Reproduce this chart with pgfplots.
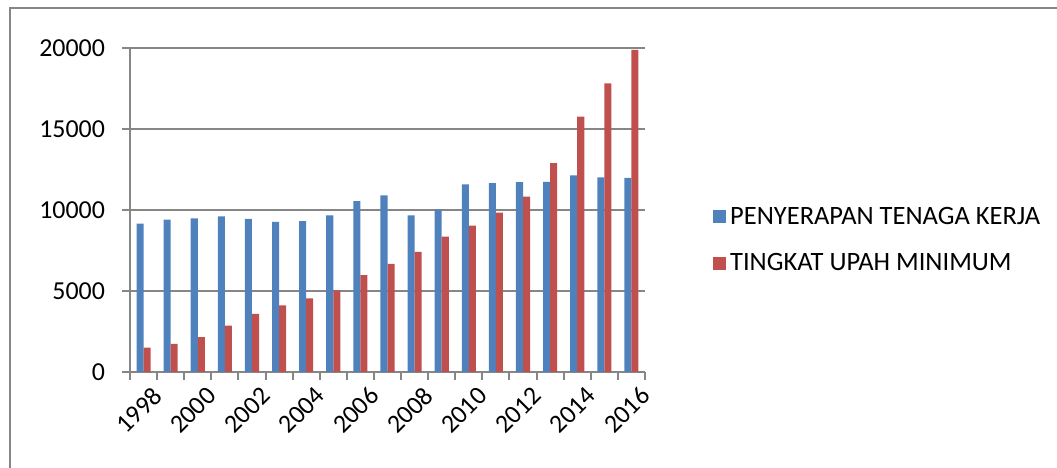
\documentclass[border=0pt]{standalone}
\usepackage{fontspec}
\setmainfont{Carlito}
\usepackage{pgfplots}
\pgfplotsset{compat=1.18}
\definecolor{serblue}{HTML}{4F81BD}
\definecolor{serred}{HTML}{C0504D}
\definecolor{axgray}{HTML}{868686}

\begin{document}
\begin{tikzpicture}
\useasboundingbox (0,0) rectangle (528.5bp,234bp);
% chart area frame (only top and left edges are visible)
\draw[axgray, line width=1bp] (5bp,0) -- (5bp,230bp) -- (528.5bp,230bp);
\begin{axis}[
  at={(65bp,48bp)}, anchor=south west,
  scale only axis, width=257.5bp, height=162bp,
  ybar=0pt, bar width=0.26,
  xmin=-0.5, xmax=18.5, ymin=0, ymax=20000,
  axis x line*=bottom, axis y line*=left,
  axis line style={axgray, line width=1bp, -},
  xtick={0,2,...,18},
  xticklabels={1998,2000,2002,2004,2006,2008,2010,2012,2014,2016},
  major x tick style={draw=none},
  minor xtick={-0.5,0.5,...,18.5},
  ytick={0,5000,10000,15000,20000},
  scaled y ticks=false,
  ymajorgrids, grid style={axgray, line width=1bp},
  tick align=outside, tick style={axgray, line width=1bp},
  major tick length=4bp, minor tick length=4bp,
  tick label style={font=\fontsize{13}{15}\selectfont, text=black},
  xticklabel style={rotate=45, anchor=east, inner sep=1bp, yshift=-9bp, xshift=2bp},
  yticklabel style={xshift=-5bp},
  /pgf/number format/.cd, 1000 sep={}, assume math mode=true, /pgfplots/.cd,
  legend style={at={(1.12,0.406)}, anchor=west, draw=none, fill=none,
    font=\fontsize{13.3}{16}\selectfont, row sep=9bp},
  legend cell align=left,
  legend image code/.code={\fill[#1] (0bp,-3bp) rectangle (6.5bp,3.5bp);},
]
\addplot[fill=serblue, draw=none] coordinates {
  (0,9160) (1,9400) (2,9490) (3,9610) (4,9450) (5,9260) (6,9320) (7,9670)
  (8,10550) (9,10900) (10,9670) (11,10020) (12,11580) (13,11660) (14,11720)
  (15,11740) (16,12130) (17,12010) (18,11990)};
\addplot[fill=serred, draw=none] coordinates {
  (0,1500) (1,1740) (2,2150) (3,2870) (4,3590) (5,4120) (6,4550) (7,5040)
  (8,5980) (9,6680) (10,7420) (11,8360) (12,9040) (13,9840) (14,10820)
  (15,12890) (16,15760) (17,17810) (18,19880)};
\legend{PENYERAPAN TENAGA KERJA, TINGKAT UPAH MINIMUM}
\end{axis}
\end{tikzpicture}
\end{document}
